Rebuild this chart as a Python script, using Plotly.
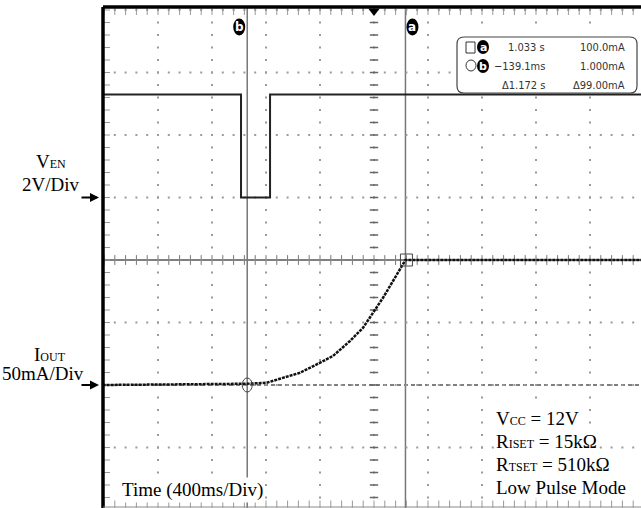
import numpy as np
import plotly.graph_objects as go

# ---------------- data ----------------
SEC_PER_DIV = 0.4      # Time 400 ms/Div
V_PER_DIV = 2.0        # V_EN 2 V/Div
MA_PER_DIV = 50.0      # I_OUT 50 mA/Div
VEN_OFFSET_DIV = 1.0   # V_EN ground marker (div)
IOUT_OFFSET_DIV = -2.0 # I_OUT ground marker (div)

ven_t = [-1.21, -0.185, -0.185, 0.03, 0.03, 2.80]
ven_v = [3.3, 3.3, 0.0, 0.0, 3.3, 3.3]

iout_t = [-1.21, -0.139, 0.005, 0.126, 0.252, 0.376, 0.496, 0.622, 0.719,
          0.793, 0.867, 0.941, 1.005, 1.033, 2.80]
iout_ma = [0.0, 1.0, 1.8, 5.8, 9.8, 16.5, 23.2, 35.2, 45.8,
           57.8, 69.8, 83.2, 95.2, 100.0, 100.0]

cursor_a_t = 1.033
cursor_b_t = -0.1391
trigger_t = 0.8

readout_row1 = ["1.033 s", "100.0mA"]
readout_row2 = ["\u2212139.1ms", "1.000mA"]
readout_row3 = ["\u03941.172 s", "\u039499.00mA"]

# ---------------- layout geometry ----------------
W, H = 641, 508
ML, MT = 103, 7
PW, PH = W - ML, H - MT
X0 = -1.2074
X1 = X0 + PW / (54.0 / SEC_PER_DIV)
CY = 260.0
PXDIV = 62.5
Y1 = (CY - MT) / PXDIV
Y0 = -(H - CY) / PXDIV

# readout box (pixels)
BL, BR, BT, BB = 457, 637, 37, 93


def px2paper_x(px):
    return (px - ML) / PW


def px2paper_y(py):
    return (H - py) / PH


def py2div(py):
    return (CY - py) / PXDIV


def t2px(t):
    return ML + (t - X0) * (54.0 / SEC_PER_DIV)


def in_box(t, ydiv):
    px = t2px(t)
    py = CY - ydiv * PXDIV
    return BL - 2 <= px <= BR + 2 and BT - 2 <= py <= BB + 2


fig = go.Figure()

# ---- graticule dots ----
gx, gy = [], []
for k in range(1, 11):
    t = -1.2 + k * SEC_PER_DIV
    for j in range(-20, 21):
        if not in_box(t, j * 0.2):
            gx.append(t)
            gy.append(j * 0.2)
for j in range(-4, 5):
    for i in range(0, 51):
        t = -1.2 + i * SEC_PER_DIV / 5
        if not in_box(t, j):
            gx.append(t)
            gy.append(j)
fig.add_trace(go.Scatter(x=gx, y=gy, mode="markers",
                         marker=dict(symbol="square", size=2, color="#9a9a9a", line=dict(width=0)),
                         hoverinfo="skip", showlegend=False))

# center axis tick marks
cvy = [j * 0.2 for j in range(-20, 21)]
fig.add_trace(go.Scatter(x=[trigger_t] * len(cvy), y=cvy, mode="markers",
                         marker=dict(symbol="line-ew", size=6, line=dict(width=1.5, color="#666")),
                         hoverinfo="skip", showlegend=False))
chx = [-1.2 + i * SEC_PER_DIV / 5 for i in range(0, 51)]
fig.add_trace(go.Scatter(x=chx, y=[0] * len(chx), mode="markers",
                         marker=dict(symbol="line-ns", size=7, line=dict(width=1, color="#777")),
                         hoverinfo="skip", showlegend=False))
# edge ticks
fig.add_trace(go.Scatter(x=chx, y=[py2div(11.5)] * len(chx), mode="markers",
                         marker=dict(symbol="line-ns", size=5, line=dict(width=1, color="#999")),
                         hoverinfo="skip", showlegend=False, cliponaxis=False))
fig.add_trace(go.Scatter(x=chx, y=[py2div(504)] * len(chx), mode="markers",
                         marker=dict(symbol="line-ns", size=5, line=dict(width=1, color="#999")),
                         hoverinfo="skip", showlegend=False, cliponaxis=False))
fig.add_trace(go.Scatter(x=[X0 + 3.5 / 135] * len(cvy), y=cvy, mode="markers",
                         marker=dict(symbol="line-ew", size=5, line=dict(width=1, color="#999")),
                         hoverinfo="skip", showlegend=False, cliponaxis=False))

# readout box (drawn below traces)
r = 7
def P(px, py):
    return "%.5f,%.5f" % (px2paper_x(px), px2paper_y(py))
path = ("M %s L %s Q %s %s L %s Q %s %s L %s Q %s %s L %s Q %s %s Z" % (
    P(BL + r, BT), P(BR - r, BT), P(BR, BT), P(BR, BT + r), P(BR, BB - r), P(BR, BB), P(BR - r, BB),
    P(BL + r, BB), P(BL, BB), P(BL, BB - r), P(BL, BT + r), P(BL, BT), P(BL + r, BT)))
fig.add_shape(type="path", xref="paper", yref="paper", path=path,
              fillcolor="white", line=dict(color="#444", width=1.2), layer="below")

# reference lines
fig.add_shape(type="line", xref="paper", yref="y", x0=0, x1=1, y0=0, y1=0,
              line=dict(color="#555", width=1.5), layer="below")
fig.add_shape(type="line", xref="paper", yref="y", x0=0, x1=1, y0=IOUT_OFFSET_DIV, y1=IOUT_OFFSET_DIV,
              line=dict(color="#555", width=1.5, dash="4px,3px"), layer="below")

# cursors
for ct in (cursor_a_t, cursor_b_t):
    fig.add_shape(type="line", xref="x", yref="paper", x0=ct, x1=ct, y0=0, y1=1,
                  line=dict(color="#777", width=1.5), layer="below")

# cursor labels (black ovals with white letters)
for ct, lab, dx in ((cursor_b_t, "b", -8), (cursor_a_t, "a", 7)):
    fig.add_shape(type="circle", xref="x", yref="paper", xsizemode="pixel", ysizemode="pixel",
                  xanchor=ct, yanchor=px2paper_y(27), x0=dx - 6, x1=dx + 6, y0=-8.5, y1=8.5,
                  fillcolor="black", line=dict(color="black", width=0), layer="below")
    fig.add_annotation(x=ct, y=px2paper_y(27), xref="x", yref="paper", xshift=dx, text="<b>%s</b>" % lab,
                       showarrow=False, yanchor="middle", xanchor="center",
                       font=dict(family="DejaVu Sans", size=12, color="white"))

# cursor symbols in box
fig.add_shape(type="rect", xref="paper", yref="paper", x0=px2paper_x(466), x1=px2paper_x(475),
              y0=px2paper_y(53), y1=px2paper_y(42), line=dict(color="#333", width=1), layer="below")
fig.add_shape(type="circle", xref="paper", yref="paper", x0=px2paper_x(466), x1=px2paper_x(476),
              y0=px2paper_y(71), y1=px2paper_y(60), line=dict(color="#333", width=1), layer="below")
for ry, lab in ((47, "a"), (66, "b")):
    fig.add_shape(type="circle", xref="paper", yref="paper", x0=px2paper_x(477), x1=px2paper_x(489),
                  y0=px2paper_y(ry + 7), y1=px2paper_y(ry - 7), fillcolor="black",
                  line=dict(color="black", width=0), layer="below")
    fig.add_annotation(x=px2paper_x(483), y=px2paper_y(ry), xref="paper", yref="paper",
                       text="<b>%s</b>" % lab, showarrow=False, yanchor="middle", xanchor="center",
                       font=dict(family="DejaVu Sans", size=11, color="white"))

# ---- traces ----
fig.add_trace(go.Scatter(x=ven_t, y=[VEN_OFFSET_DIV + v / V_PER_DIV for v in ven_v],
                         mode="lines", line=dict(color="#222", width=2),
                         hoverinfo="skip", showlegend=False))
fig.add_trace(go.Scatter(x=iout_t, y=[IOUT_OFFSET_DIV + i / MA_PER_DIV for i in iout_ma],
                         mode="lines", line=dict(color="#111", width=2.5, dash="3px,1px"),
                         hoverinfo="skip", showlegend=False))

# trigger marker
fig.add_trace(go.Scatter(x=[trigger_t], y=[py2div(11)], mode="markers",
                         marker=dict(symbol="triangle-down", size=10, color="black"),
                         hoverinfo="skip", showlegend=False, cliponaxis=False))

# cursor point markers
fig.add_shape(type="circle", xref="x", yref="y", xsizemode="pixel", ysizemode="pixel",
              xanchor=cursor_b_t, yanchor=IOUT_OFFSET_DIV, x0=-5, x1=5, y0=-7, y1=7,
              line=dict(color="#444", width=1))
fig.add_shape(type="rect", xref="x", yref="y", xsizemode="pixel", ysizemode="pixel",
              xanchor=cursor_a_t, yanchor=0, x0=-5, x1=7, y0=-6, y1=6,
              line=dict(color="#444", width=1))

# borders
fig.add_shape(type="line", xref="paper", yref="paper", x0=0, x1=1, y0=1, y1=1,
              line=dict(color="black", width=3.5))
fig.add_shape(type="line", xref="paper", yref="paper", x0=0, x1=0, y0=0, y1=1,
              line=dict(color="black", width=3.5))
fig.add_shape(type="line", xref="paper", yref="paper", x0=0, x1=1, y0=px2paper_y(507), y1=px2paper_y(507),
              line=dict(color="#888", width=1))

RF = dict(family="DejaVu Sans Condensed, Liberation Sans Narrow, sans-serif", size=11, color="#333")
rows_y = [47, 66, 85]
for ry, row in zip(rows_y, [readout_row1, readout_row2, readout_row3]):
    fig.add_annotation(x=px2paper_x(547), y=px2paper_y(ry), xref="paper", yref="paper", text=row[0],
                       xanchor="right", yanchor="middle", showarrow=False, font=RF)
    fig.add_annotation(x=px2paper_x(627), y=px2paper_y(ry), xref="paper", yref="paper", text=row[1],
                       xanchor="right", yanchor="middle", showarrow=False, font=RF)

# ---- text labels (serif) ----
SF = dict(family="Liberation Serif, Times New Roman, serif", size=19, color="black")
def sc(s):
    return "<span style='font-size:12px'>%s</span>" % s

labels = [
    ("V" + sc("EN"), 51, 162),
    ("2V/Div", 51, 185),
    ("I" + sc("OUT"), 50, 354),
    ("50mA/Div", 43, 373),
]
for txt, lx, ly in labels:
    fig.add_annotation(x=px2paper_x(lx), y=px2paper_y(ly), xref="paper", yref="paper", text=txt,
                       showarrow=False, xanchor="center", yanchor="middle", font=SF)

for ydiv in (VEN_OFFSET_DIV, IOUT_OFFSET_DIV):
    fig.add_annotation(x=px2paper_x(99), y=ydiv, xref="paper", yref="y", ax=-19, ay=0,
                       text="", showarrow=True, arrowhead=2, arrowsize=1, arrowwidth=1.8,
                       arrowcolor="black")

info = [("V" + sc("CC") + " = 12V", 418), ("R" + sc("ISET") + " = 15k\u03a9", 441),
        ("R" + sc("TSET") + " = 510k\u03a9", 464), ("Low Pulse Mode", 487)]
for txt, ly in info:
    fig.add_annotation(x=px2paper_x(495), y=px2paper_y(ly), xref="paper", yref="paper", text=txt,
                       showarrow=False, xanchor="left", yanchor="middle", font=SF,
                       bgcolor="white", borderpad=0)

fig.add_annotation(x=px2paper_x(120), y=px2paper_y(490), xref="paper", yref="paper",
                   text="Time (400ms/Div)", showarrow=False, xanchor="left", yanchor="middle", font=SF,
                   bgcolor="white", borderpad=1)

fig.update_layout(
    width=W, height=H,
    margin=dict(l=ML, r=0, t=MT, b=0),
    paper_bgcolor="white", plot_bgcolor="white",
    xaxis=dict(range=[X0, X1], showgrid=False, zeroline=False, showticklabels=False, ticks="",
               showline=False, fixedrange=True),
    yaxis=dict(range=[Y0, Y1], showgrid=False, zeroline=False, showticklabels=False, ticks="",
               showline=False, fixedrange=True),
    showlegend=False,
    hovermode=False,
)

fig.write_html("out.html", config={"displayModeBar": False},
               post_script="document.body.style.margin='0px';")
